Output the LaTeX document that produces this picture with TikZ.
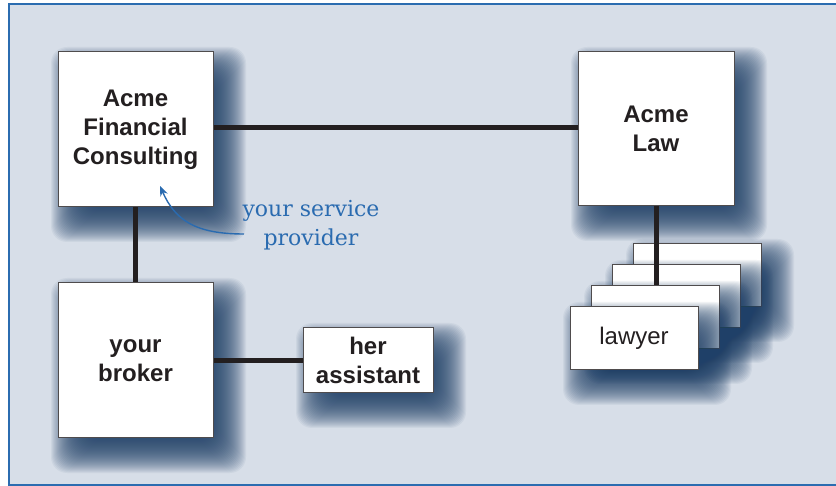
\documentclass[tikz,border=0pt]{standalone}
\usepackage{fontspec}
\setmainfont{Liberation Sans}
\newfontfamily\notefont{DejaVu Serif}
\usetikzlibrary{arrows.meta}
\definecolor{bg}{HTML}{D7DEE8}
\definecolor{frameblue}{HTML}{2B6CB0}
\definecolor{shadowblue}{HTML}{1F4068}
\definecolor{noteblue}{HTML}{2A6BB0}
\definecolor{ink}{HTML}{231F20}
\newcommand\myshadow[4]{%
  \foreach \k in {-20,...,20}{%
    \fill[shadowblue, opacity=0.055, rounded corners=16pt]
      (#1+13-\k, #2+15-\k) rectangle (#3+13+\k, #4+15+\k);}}
\begin{document}
\begin{tikzpicture}[x=1pt,y=-1pt,
  box/.style={draw=ink!80, line width=1pt, fill=white, inner sep=0pt, align=center,
    font=\fontsize{24}{29}\selectfont\bfseries, text=ink},
  bigbox/.style={box, minimum width=155pt, minimum height=155pt},
  smallbox/.style={box, minimum width=128pt, minimum height=63pt},
  lawbox/.style={smallbox, font=\fontsize{24}{29}\selectfont},
  link/.style={ink, line width=5pt}
]
\useasboundingbox (0,0) rectangle (836,486);
\clip (0,0) rectangle (836,486);
\draw[frameblue, line width=2pt, fill=bg] (9,4) rectangle (850,485);

\myshadow{58}{52}{213}{207}
\node[bigbox] (fc) at (135.5,129.5) {Acme\\Financial\\Consulting};
\myshadow{578}{52}{734}{206}
\node[bigbox, minimum width=156pt, minimum height=154pt] (law) at (656,129) {Acme\\Law};
\myshadow{58}{283}{213}{438}
\node[bigbox] (broker) at (135.5,360.5) {your\\broker};
\myshadow{303}{328}{433}{393}
\node[smallbox, minimum width=130pt, minimum height=65pt] (asst) at (368,360.5) {her\\assistant};

\myshadow{633}{244}{761}{307}
\node[lawbox] (l4) at (697,275.5) {};
\myshadow{612}{265}{740}{328}
\node[lawbox] (l3) at (676,296.5) {};
\myshadow{591}{286}{719}{349}
\node[lawbox] (l2) at (655,317.5) {};
\myshadow{570}{307}{698}{370}
\node[lawbox] (l1) at (634,338.5) {lawyer};

\draw[link] (fc.east |- 0,128) -- (law.west |- 0,128);
\draw[link] (fc.south) -- (broker.north);
\draw[link] (broker.east) -- (asst.west);
\draw[link] (law.south) -- (law.south |- l2.north);

\node[font=\notefont\fontsize{22}{29}\selectfont, text=noteblue, align=center] (note) at (311,225) {your service\\provider};
\coordinate (nstart) at (244,234);
\coordinate (ntip) at (160,186);
\draw[noteblue, line width=1.4pt, -{Stealth[length=10pt,width=8pt]}] (nstart) .. controls (195,234) and (175,220) .. (ntip);
\end{tikzpicture}
\end{document}
